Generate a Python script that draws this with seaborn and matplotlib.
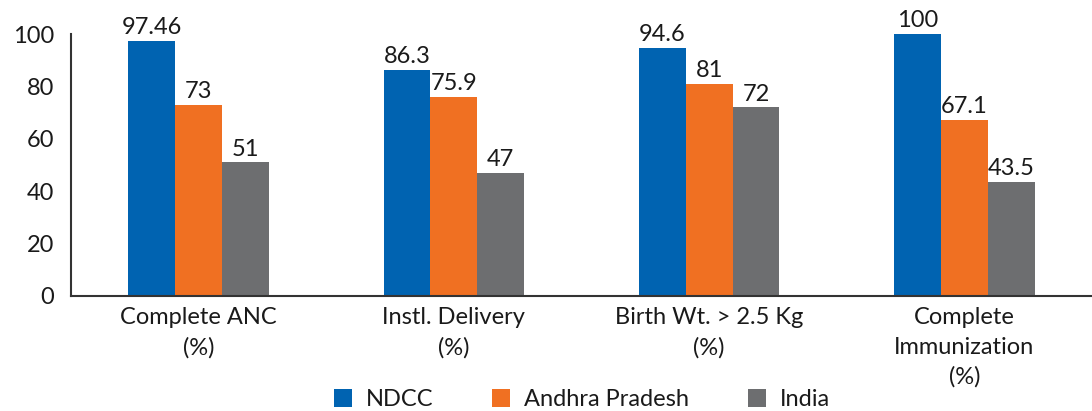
import matplotlib
matplotlib.use("Agg")
import matplotlib.pyplot as plt
import seaborn as sns
import pandas as pd
from matplotlib.ticker import FixedLocator

categories = ["Complete ANC\n(%)", "Instl. Delivery\n(%)", "Birth Wt. > 2.5 Kg\n(%)",
              "Complete\nImmunization\n(%)"]
series = ["NDCC", "Andhra Pradesh", "India"]
ndcc = [97.46, 86.3, 94.6, 100]
andhra = [73, 75.9, 81, 67.1]
india = [51, 47, 72, 43.5]
value_text = [["97.46", "86.3", "94.6", "100"],
              ["73", "75.9", "81", "67.1"],
              ["51", "47", "72", "43.5"]]
colors = ["#0063B1", "#F07022", "#6D6E70"]

df = pd.DataFrame({
    "category": categories * 3,
    "series": [s for s in series for _ in categories],
    "value": ndcc + andhra + india,
})

sns.set_style("white")
plt.rcParams["font.family"] = ["Lato", "DejaVu Sans"]
plt.rcParams["text.color"] = "#1a1a1a"

fig, ax = plt.subplots(figsize=(10.92, 4.11), dpi=100)
fig.subplots_adjust(left=0.065, right=1.0, bottom=0.28, top=0.917)

sns.barplot(data=df, x="category", y="value", hue="series", palette=colors,
            width=0.55, saturation=1, linewidth=0, ax=ax, legend=True)

for cont, labels in zip(ax.containers, value_text):
    ax.bar_label(cont, labels=labels, padding=2, fontsize=17, color="#1a1a1a")

ax.set_ylim(0, 100)
ax.set_xlim(-0.5, 3.5)
ax.set_yticks([0, 20, 40, 60, 80, 100])
ax.tick_params(axis="y", labelsize=17, length=7, width=1.2, color="#333333",
               labelcolor="#1a1a1a", pad=5)
ax.set_xticks(range(4))
ax.set_xticklabels(categories, fontsize=17, linespacing=1.5, color="#1a1a1a")
ax.tick_params(axis="x", which="major", length=0, pad=8)
ax.xaxis.set_minor_locator(FixedLocator([-0.5, 0.5, 1.5, 2.5]))
ax.tick_params(axis="x", which="minor", length=6, width=1.2, color="#333333")
ax.set_xlabel("")
ax.set_ylabel("")

for side in ["top", "right"]:
    ax.spines[side].set_visible(False)
for side in ["left", "bottom"]:
    ax.spines[side].set_color("#333333")
    ax.spines[side].set_linewidth(1.5)

handles, labs = ax.get_legend_handles_labels()
ax.get_legend().remove()
fig.legend(handles, labs, loc="lower center", bbox_to_anchor=(0.533, -0.05), ncol=3,
           frameon=False, fontsize=17, handlelength=0.75, handleheight=0.75,
           columnspacing=2.5, handletextpad=0.6)

plt.savefig("out.png", dpi=100)
